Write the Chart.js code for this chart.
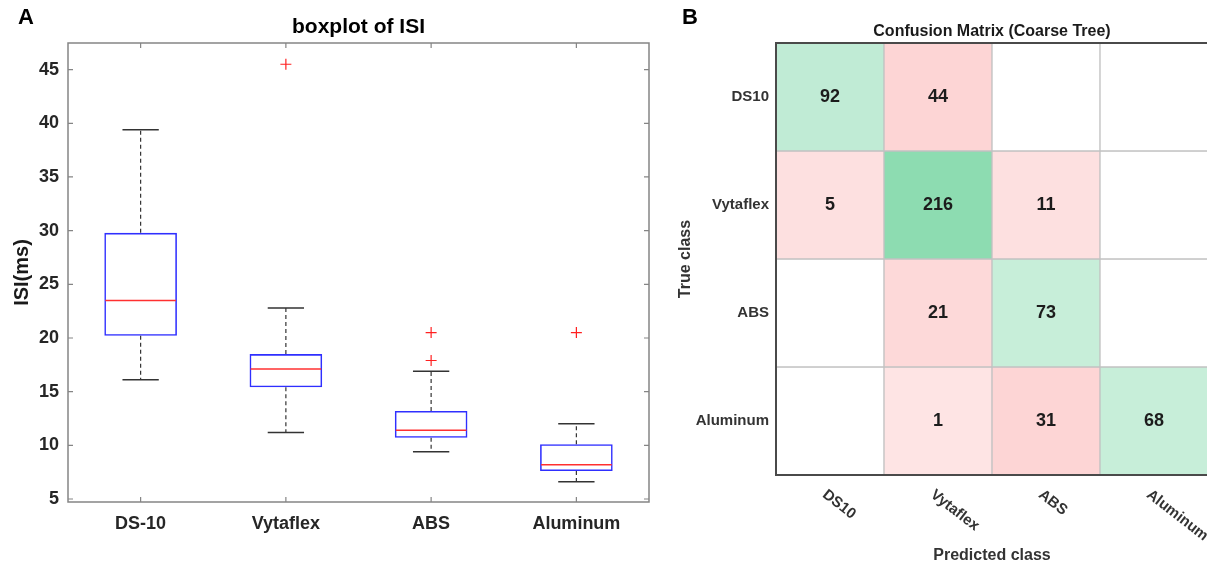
<!DOCTYPE html>
<html>
<head>
<meta charset="utf-8">
<title>ISI boxplot and confusion matrix</title>
<script src="https://cdn.jsdelivr.net/npm/chart.js@4.4.1/dist/chart.umd.min.js"></script>
<style>
  html, body { margin: 0; padding: 0; background: #fff; overflow: hidden; }
  #wrap { position: relative; width: 1207px; height: 567px; overflow: hidden; }
  #boxCanvas { position: absolute; left: 0; top: 0; }
  #cmCanvas { position: absolute; left: 660px; top: 0; }
</style>
</head>
<body>
<div id="wrap">
  <canvas id="boxCanvas" width="660" height="567"></canvas>
  <canvas id="cmCanvas" width="548" height="567"></canvas>
</div>
<script>
// panel A: boxplot of ISI (ms)
const categories = ['DS-10', 'Vytaflex', 'ABS', 'Aluminum'];
const lowerWhisker = [16.1, 11.2, 9.4, 6.6];
const q1 = [20.2, 15.4, 10.7, 7.6];
const median = [23.5, 17.1, 11.4, 8.2];
const q3 = [29.8, 18.5, 13.2, 10.1];
const upperWhisker = [39.4, 22.8, 16.9, 12.0];
const outliers = [[], [45.5], [17.9, 20.5], [20.5]];

// panel B: confusion matrix (rows = true class, columns = predicted class)
const trueClasses = ['DS10', 'Vytaflex', 'ABS', 'Aluminum'];
const predictedClasses = ['DS10', 'Vytaflex', 'ABS', 'Aluminum'];
const counts = [
  [92, 44, 0, 0],
  [5, 216, 11, 0],
  [0, 21, 73, 0],
  [0, 1, 31, 68]
];

const cellColors = [
  ['#c0ebd5', '#fdd5d5', '#ffffff', '#ffffff'],
  ['#fde0e0', '#8ddcb1', '#fde0e0', '#ffffff'],
  ['#ffffff', '#fdd9d9', '#c7eed9', '#ffffff'],
  ['#ffffff', '#fee4e4', '#fdd5d5', '#c7eed9']
];

const FONT = '"Liberation Sans", Arial, sans-serif';

const boxPlotExtras = {
  id: 'boxPlotExtras',
  afterDatasetsDraw(chart) {
    const { ctx, scales: { x, y } } = chart;
    const bars = chart.getDatasetMeta(0).data;
    ctx.save();
    categories.forEach((cat, i) => {
      const cx = x.getPixelForValue(i);
      const half = bars[i].width / 2;
      const capHalf = half / 2;
      const yUp = y.getPixelForValue(upperWhisker[i]);
      const yLo = y.getPixelForValue(lowerWhisker[i]);

      ctx.strokeStyle = '#333';
      ctx.lineWidth = 1.2;
      ctx.setLineDash([4, 3]);
      ctx.beginPath();
      ctx.moveTo(cx, y.getPixelForValue(q3[i]));
      ctx.lineTo(cx, yUp);
      ctx.moveTo(cx, y.getPixelForValue(q1[i]));
      ctx.lineTo(cx, yLo);
      ctx.stroke();

      ctx.setLineDash([]);
      ctx.lineWidth = 1.5;
      ctx.beginPath();
      ctx.moveTo(cx - capHalf, yUp);
      ctx.lineTo(cx + capHalf, yUp);
      ctx.moveTo(cx - capHalf, yLo);
      ctx.lineTo(cx + capHalf, yLo);
      ctx.stroke();

      const ym = y.getPixelForValue(median[i]);
      ctx.strokeStyle = '#ff3030';
      ctx.beginPath();
      ctx.moveTo(cx - half + 1, ym);
      ctx.lineTo(cx + half - 1, ym);
      ctx.stroke();
    });
    ctx.restore();
  }
};

const boxFrame = {
  id: 'boxFrame',
  afterDraw(chart) {
    const { ctx, chartArea: a, scales: { x, y } } = chart;
    ctx.save();
    ctx.strokeStyle = '#858585';
    ctx.lineWidth = 1.5;
    ctx.strokeRect(a.left, a.top, a.right - a.left, a.bottom - a.top);
    ctx.lineWidth = 1.2;
    ctx.beginPath();
    y.ticks.forEach(t => {
      const py = y.getPixelForValue(t.value);
      ctx.moveTo(a.left, py); ctx.lineTo(a.left + 5, py);
      ctx.moveTo(a.right, py); ctx.lineTo(a.right - 5, py);
    });
    categories.forEach((c, i) => {
      const px = x.getPixelForValue(i);
      ctx.moveTo(px, a.bottom); ctx.lineTo(px, a.bottom - 5);
      ctx.moveTo(px, a.top); ctx.lineTo(px, a.top + 5);
    });
    ctx.stroke();
    ctx.fillStyle = '#000';
    ctx.font = 'bold 22px ' + FONT;
    ctx.textBaseline = 'middle';
    ctx.fillText('A', 18, 18);
    ctx.restore();
  }
};

new Chart(document.getElementById('boxCanvas'), {
  type: 'bar',
  data: {
    labels: categories,
    datasets: [{
      label: 'IQR',
      data: categories.map((c, i) => [q1[i], q3[i]]),
      backgroundColor: 'rgba(0,0,0,0)',
      borderColor: '#2f2fff',
      borderWidth: 1.6,
      borderSkipped: false,
      barPercentage: 0.5,
      categoryPercentage: 1
    }, {
      type: 'line',
      label: 'Outliers',
      data: outliers.flatMap((vals, i) => vals.map(v => ({ x: categories[i], y: v }))),
      showLine: false,
      pointStyle: 'cross',
      pointRadius: 5.5,
      borderColor: '#ff2020',
      borderWidth: 1.2
    }]
  },
  options: {
    responsive: false,
    animation: false,
    layout: { padding: { left: 0, right: 11, top: 0, bottom: 0 } },
    plugins: {
      legend: { display: false },
      tooltip: { enabled: false },
      title: {
        display: true,
        fullSize: false,
        text: 'boxplot of ISI',
        color: '#000',
        font: { family: FONT, size: 21, weight: 'bold' },
        padding: { top: 15, bottom: 2.8 }
      }
    },
    scales: {
      x: {
        offset: true,
        grid: { display: false, drawTicks: false },
        border: { display: false },
        ticks: { color: '#262626', padding: 11, font: { family: FONT, size: 18, weight: 'bold' } },
        afterFit(s) { s.height = 65; }
      },
      y: {
        min: 4.72,
        max: 47.48,
        grid: { display: false, drawTicks: false },
        border: { display: false },
        ticks: { stepSize: 5, includeBounds: false, color: '#262626', padding: 9,
                 font: { family: FONT, size: 18, weight: 'bold' } },
        title: { display: true, text: 'ISI(ms)', color: '#1a1a1a', padding: { top: 10, bottom: 0 },
                 font: { family: FONT, size: 20, weight: 'bold' } },
        afterFit(s) { s.width = 68; }
      }
    }
  },
  plugins: [boxPlotExtras, boxFrame]
});

const matrixDecor = {
  id: 'matrixDecor',
  afterDatasetsDraw(chart) {
    const { ctx, chartArea: a, scales: { x } } = chart;
    ctx.save();
    ctx.fillStyle = '#1c1c1c';
    ctx.font = 'bold 18px ' + FONT;
    ctx.textAlign = 'center';
    ctx.textBaseline = 'middle';
    counts.forEach((row, r) => {
      const cells = chart.getDatasetMeta(r).data;
      row.forEach((v, c) => {
        if (v > 0) {
          const el = cells[c];
          ctx.fillText(String(v), el.x, (el.y + el.base) / 2);
        }
      });
    });

    ctx.strokeStyle = '#4a4a4a';
    ctx.lineWidth = 2;
    ctx.beginPath();
    ctx.moveTo(a.right + 2, a.top);
    ctx.lineTo(a.left, a.top);
    ctx.lineTo(a.left, a.bottom);
    ctx.lineTo(a.right + 2, a.bottom);
    ctx.stroke();

    ctx.fillStyle = '#333';
    ctx.font = 'bold 15px ' + FONT;
    ctx.textAlign = 'left';
    ctx.textBaseline = 'top';
    predictedClasses.forEach((lab, c) => {
      ctx.save();
      ctx.translate(x.getPixelForValue(c) - 1, a.bottom + 12);
      ctx.rotate(38 * Math.PI / 180);
      ctx.fillText(lab, 0, 0);
      ctx.restore();
    });

    ctx.fillStyle = '#1a1a1a';
    ctx.font = 'bold 16px ' + FONT;
    ctx.textAlign = 'center';
    ctx.textBaseline = 'middle';
    ctx.fillText('Confusion Matrix (Coarse Tree)', (a.left + a.right) / 2, 32);

    ctx.fillStyle = '#000';
    ctx.font = 'bold 22px ' + FONT;
    ctx.fillText('B', 30, 18);
    ctx.restore();
  }
};

new Chart(document.getElementById('cmCanvas'), {
  type: 'bar',
  data: {
    labels: predictedClasses,
    datasets: trueClasses.map((t, r) => ({
      label: t,
      data: predictedClasses.map(() => [r, r + 1]),
      backgroundColor: cellColors[r],
      borderColor: '#c2c2c2',
      borderWidth: 1,
      borderSkipped: false,
      grouped: false,
      barPercentage: 1,
      categoryPercentage: 1
    }))
  },
  options: {
    responsive: false,
    animation: false,
    layout: { padding: { left: 0, right: 0, top: 43, bottom: 0 } },
    plugins: { legend: { display: false }, tooltip: { enabled: false } },
    scales: {
      x: {
        offset: true,
        grid: { display: false, drawTicks: false },
        border: { display: false },
        ticks: { display: false },
        title: { display: true, text: 'Predicted class', color: '#333', padding: { top: 0, bottom: 2 },
                 font: { family: FONT, size: 16, weight: 'bold' } },
        afterFit(s) { s.height = 92; }
      },
      y: {
        min: 0,
        max: 4,
        reverse: true,
        grid: { display: false, drawTicks: false },
        border: { display: false },
        afterBuildTicks(s) { s.ticks = trueClasses.map((t, i) => ({ value: i + 0.5 })); },
        ticks: { color: '#333', padding: 7, font: { family: FONT, size: 15, weight: 'bold' },
                 callback: (v, i) => trueClasses[i] },
        title: { display: true, text: 'True class', color: '#333', padding: { top: 16, bottom: 0 },
                 font: { family: FONT, size: 16, weight: 'bold' } },
        afterFit(s) { s.width = 116; }
      }
    }
  },
  plugins: [matrixDecor]
});
</script>
</body>
</html>
